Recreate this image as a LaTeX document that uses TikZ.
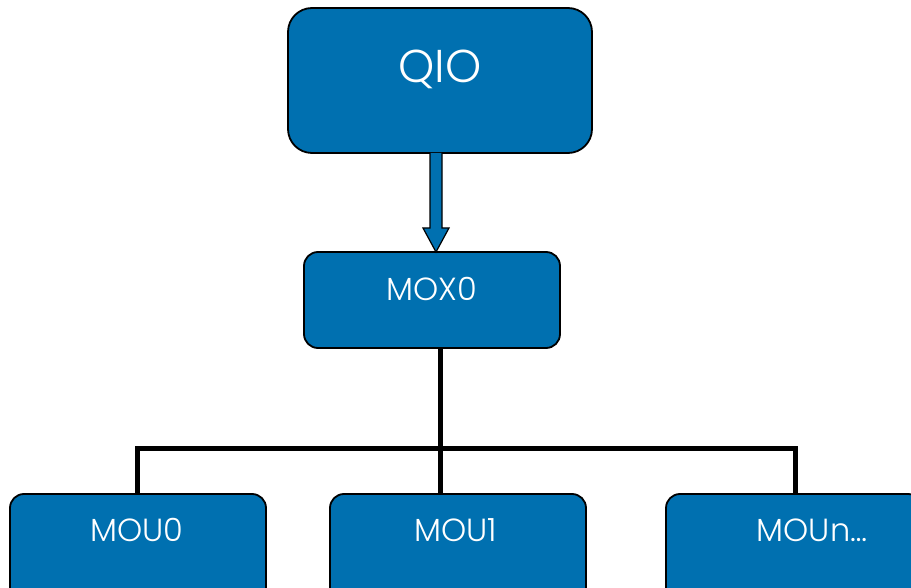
\documentclass[tikz,border=0pt]{standalone}
\usepackage{fontspec}
\setmainfont{Poppins}[UprightFont={* Light}]
\definecolor{boxblue}{RGB}{0,112,176}
\begin{document}
\begin{tikzpicture}[x=1pt,y=-1pt,
  box/.style={draw=black,line width=1.8pt,fill=boxblue,rounded corners=14pt,inner sep=0pt},
  txt/.style={text=white,inner sep=0pt,anchor=center,font=\fontsize{32}{32}\selectfont},
  conn/.style={draw=black,line width=5pt}]
\useasboundingbox (0,0) rectangle (911,588);
% boxes
\node[box,minimum width=304pt,minimum height=145pt,rounded corners=24pt] (qio) at (440,80.5) {};
\node[box,minimum width=256pt,minimum height=96pt] (mox) at (432,300) {};
\node[box,minimum width=256pt,minimum height=110pt] (mou0) at (138,549) {};
\node[box,minimum width=256pt,minimum height=110pt] (mou1) at (458,549) {};
\node[box,minimum width=256pt,minimum height=110pt] (moun) at (794,549) {};
% texts
\node[txt,font=\fontsize{46}{46}\selectfont] at (440,69) {QIO};
\node[txt] at (432,289) {MOX0};
\node[txt] at (137,530) {MOU0};
\node[txt] at (456,530) {MOU1};
\node[txt] at (812,530) {MOUn…};
% block arrow
\draw[line width=1.2pt,fill=boxblue,line join=miter]
  (430,153) -- (430,228) -- (423,228) -- (436,252) -- (449,228) -- (442,228) -- (442,153);
% tree connectors
\coordinate (hl) at (137,448);
\coordinate (hr) at (795,448);
\draw[conn] (mox.south -| 440,0) -- (mou1.north -| 440,0);
\draw[conn,line join=miter] (mou0.north -| hl) -- (hl) -- (hr) -- (moun.north -| hr);
\end{tikzpicture}
\end{document}
